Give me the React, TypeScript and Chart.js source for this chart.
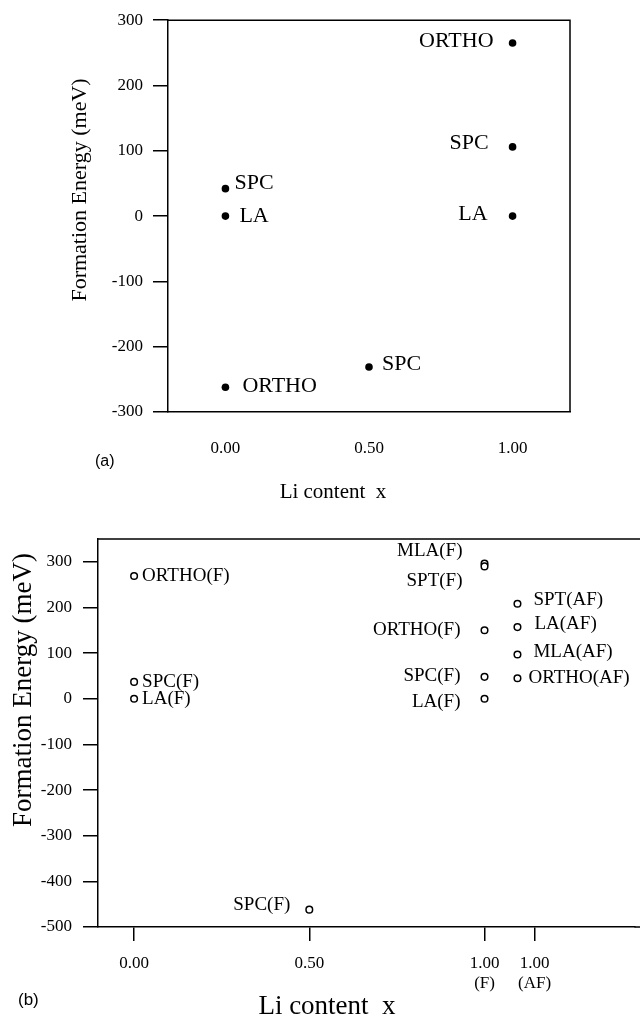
import React, { useEffect, useRef } from "react";
import { Chart, registerables } from "chart.js";
Chart.register(...registerables);

const SERIF = '"Liberation Serif", "Times New Roman", Times, serif';
const SANS = '"Liberation Sans", Arial, sans-serif';

// ---------------- Panel (a) data ----------------
const aX = [0, 0, 0, 0.5, 1, 1, 1];
const aY = [42, 0, -262, -231, 265, 106, 0];
const aNames = ["SPC", "LA", "ORTHO", "SPC", "ORTHO", "SPC", "LA"];
const aYTicks = [-300, -200, -100, 0, 100, 200, 300];
const aXTicks = [0, 0.5, 1];
const aXTickLabels = ["0.00", "0.50", "1.00"];

// ---------------- Panel (b) data ----------------
const X_AF = 1.094;
const bX = [0, 0, 0, 0.5, 1, 1, 1, 1, 1, X_AF, X_AF, X_AF, X_AF];
const bY = [269, 37, 0, -462, 296, 290, 150, 48, 0, 208, 157, 97, 45];
const bNames = [
  "ORTHO(F)", "SPC(F)", "LA(F)", "SPC(F)",
  "MLA(F)", "SPT(F)", "ORTHO(F)", "SPC(F)", "LA(F)",
  "SPT(AF)", "LA(AF)", "MLA(AF)", "ORTHO(AF)",
];
const bYTicks = [-500, -400, -300, -200, -100, 0, 100, 200, 300];
const bXTicks = [0, 0.5, 1, 1.143];
const bXTickLabels: (string | string[])[] = ["0.00", "0.50", ["1.00", "(F)"], ["1.00", "(AF)"]];

// ---------------- label placement (layout) ----------------
type Place = { side: "left" | "right"; gap: number; dy: number };
const aPlace: Place[] = [
  { side: "right", gap: 9, dy: -5 },
  { side: "right", gap: 14, dy: 0 },
  { side: "right", gap: 17, dy: -1 },
  { side: "right", gap: 13, dy: -3 },
  { side: "left", gap: 19, dy: -2 },
  { side: "left", gap: 24, dy: -4 },
  { side: "left", gap: 25, dy: -2 },
];
const bPlace: Place[] = [
  { side: "right", gap: 8, dy: 0 },
  { side: "right", gap: 8, dy: 0 },
  { side: "right", gap: 8, dy: 0 },
  { side: "left", gap: 19, dy: -5 },
  { side: "left", gap: 22, dy: -13 },
  { side: "left", gap: 22, dy: 15 },
  { side: "left", gap: 24, dy: 0 },
  { side: "left", gap: 24, dy: -1 },
  { side: "left", gap: 24, dy: 3 },
  { side: "right", gap: 16, dy: -4 },
  { side: "right", gap: 17, dy: -3 },
  { side: "right", gap: 16, dy: -2 },
  { side: "right", gap: 11, dy: 0 },
];

type TextItem = { text: string; x: number; y: number; font: string; align: CanvasTextAlign; rotate?: boolean };

function labelPlugin(names: string[], place: Place[], font: string) {
  return {
    id: "pointLabels",
    afterDatasetsDraw(chart: any) {
      const meta = chart.getDatasetMeta(0);
      const ctx = chart.ctx as CanvasRenderingContext2D;
      ctx.save();
      ctx.font = font;
      ctx.fillStyle = "#000";
      ctx.textBaseline = "middle";
      meta.data.forEach((el: any, i: number) => {
        const p = place[i];
        ctx.textAlign = p.side === "right" ? "left" : "right";
        const x = p.side === "right" ? el.x + p.gap : el.x - p.gap;
        ctx.fillText(names[i], x, el.y + p.dy);
      });
      ctx.restore();
    },
  };
}

function framePlugin(lw: number, rightBorder: boolean) {
  return {
    id: "frame",
    afterDraw(chart: any) {
      const { left, right, top, bottom } = chart.chartArea;
      const ctx = chart.ctx as CanvasRenderingContext2D;
      ctx.save();
      ctx.strokeStyle = "#000";
      ctx.lineWidth = lw;
      ctx.beginPath();
      ctx.moveTo(left, top);
      if (rightBorder) {
        ctx.lineTo(right, top);
        ctx.lineTo(right, bottom);
      } else {
        ctx.lineTo(chart.width, top);
        ctx.moveTo(right, bottom);
        ctx.lineTo(chart.width, bottom);
      }
      ctx.stroke();
      ctx.restore();
    },
  };
}

function textPlugin(items: TextItem[]) {
  return {
    id: "extraText",
    afterDraw(chart: any) {
      const ctx = chart.ctx as CanvasRenderingContext2D;
      ctx.save();
      ctx.fillStyle = "#000";
      ctx.textBaseline = "middle";
      for (const t of items) {
        ctx.font = t.font;
        ctx.textAlign = t.align;
        if (t.rotate) {
          ctx.save();
          ctx.translate(t.x, t.y);
          ctx.rotate(-Math.PI / 2);
          ctx.fillText(t.text, 0, 0);
          ctx.restore();
        } else {
          ctx.fillText(t.text, t.x, t.y);
        }
      }
      ctx.restore();
    },
  };
}

function makeTop(canvas: HTMLCanvasElement) {
  const tickFont = { family: SERIF, size: 17 };
  return new Chart(canvas, {
    type: "scatter",
    data: {
      datasets: [
        {
          data: aX.map((x, i) => ({ x, y: aY[i] })),
          pointRadius: 3.8,
          pointBackgroundColor: "#000",
          pointBorderWidth: 0,
          showLine: false,
        },
      ],
    },
    options: {
      responsive: false,
      animation: false,
      events: [],
      layout: { padding: { left: 0, right: 70, top: 18, bottom: 0 } },
      plugins: { legend: { display: false }, tooltip: { enabled: false } },
      scales: {
        x: {
          type: "linear",
          min: -0.2,
          max: 1.2,
          afterBuildTicks: (s: any) => { s.ticks = aXTicks.map((v) => ({ value: v })); },
          afterFit: (s: any) => { s.height = 93; },
          ticks: {
            callback: (_v: any, i: number) => aXTickLabels[i],
            font: tickFont,
            color: "#000",
            padding: 18,
            maxRotation: 0,
            autoSkip: false,
          },
          grid: { display: false },
          border: { display: true, color: "#000", width: 1.5 },
        },
        y: {
          type: "linear",
          min: -300,
          max: 300,
          afterBuildTicks: (s: any) => { s.ticks = aYTicks.map((v) => ({ value: v })); },
          afterFit: (s: any) => { s.width = 168; },
          ticks: { callback: (v: any) => String(v), font: tickFont, color: "#000", padding: 10 },
          grid: { drawOnChartArea: false, drawTicks: true, tickLength: 15, color: "#000", lineWidth: 1.5 },
          border: { display: true, color: "#000", width: 1.5 },
        },
      },
    } as any,
    plugins: [
      framePlugin(1.5, true),
      labelPlugin(aNames, aPlace, `22px ${SERIF}`),
      textPlugin([
        { text: "Li content  x", x: 333, y: 492, font: `21px ${SERIF}`, align: "center" },
        { text: "(a)", x: 95, y: 462, font: `16px ${SANS}`, align: "left" },
        { text: "Formation Energy (meV)", x: 80, y: 190, font: `22px ${SERIF}`, align: "center", rotate: true },
      ]),
    ],
  });
}

function makeBottom(canvas: HTMLCanvasElement) {
  const tickFont = { family: SERIF, size: 17 };
  return new Chart(canvas, {
    type: "scatter",
    data: {
      datasets: [
        {
          data: bX.map((x, i) => ({ x, y: bY[i] })),
          pointRadius: 3.3,
          pointBackgroundColor: "#fff",
          pointBorderColor: "#000",
          pointBorderWidth: 1.5,
          showLine: false,
        },
      ],
    },
    options: {
      responsive: false,
      animation: false,
      events: [],
      layout: { padding: { left: 0, right: 0, top: 34, bottom: 0 } },
      plugins: { legend: { display: false }, tooltip: { enabled: false } },
      scales: {
        x: {
          type: "linear",
          min: -0.103,
          max: 1.428,
          afterBuildTicks: (s: any) => { s.ticks = bXTicks.map((v) => ({ value: v })); },
          afterFit: (s: any) => { s.height = 94; },
          ticks: {
            callback: (_v: any, i: number) => bXTickLabels[i],
            font: tickFont,
            color: "#000",
            padding: 12,
            maxRotation: 0,
            autoSkip: false,
          },
          grid: { drawOnChartArea: false, drawTicks: true, tickLength: 14, color: "#000", lineWidth: 1.5 },
          border: { display: true, color: "#000", width: 1.5 },
        },
        y: {
          type: "linear",
          min: -500,
          max: 350,
          afterBuildTicks: (s: any) => { s.ticks = bYTicks.map((v) => ({ value: v })); },
          afterFit: (s: any) => { s.width = 98; },
          ticks: { callback: (v: any) => String(v), font: tickFont, color: "#000", padding: 11 },
          grid: { drawOnChartArea: false, drawTicks: true, tickLength: 15, color: "#000", lineWidth: 1.5 },
          border: { display: true, color: "#000", width: 1.5 },
        },
      },
    } as any,
    plugins: [
      framePlugin(1.5, false),
      labelPlugin(bNames, bPlace, `19px ${SERIF}`),
      textPlugin([
        { text: "Li content  x", x: 327, y: 502, font: `27px ${SERIF}`, align: "center" },
        { text: "(b)", x: 18, y: 495, font: `17px ${SANS}`, align: "left" },
        { text: "Formation Energy (meV)", x: 24, y: 185, font: `27px ${SERIF}`, align: "center", rotate: true },
      ]),
    ],
  });
}

function ChartCanvas(props: { make: (c: HTMLCanvasElement) => Chart; width: number; height: number; top: number }) {
  const ref = useRef<HTMLCanvasElement | null>(null);
  useEffect(() => {
    const chart = props.make(ref.current as HTMLCanvasElement);
    return () => chart.destroy();
  }, []);
  return (
    <canvas
      ref={ref}
      width={props.width}
      height={props.height}
      style={{ position: "absolute", left: 0, top: props.top, width: props.width, height: props.height, display: "block" }}
    />
  );
}

export default function App() {
  return (
    <div style={{ position: "absolute", left: 0, top: 0, width: 640, height: 1021, background: "#fff", overflow: "hidden" }}>
      <ChartCanvas make={makeTop} width={640} height={505} top={0} />
      <ChartCanvas make={makeBottom} width={640} height={516} top={505} />
    </div>
  );
}
